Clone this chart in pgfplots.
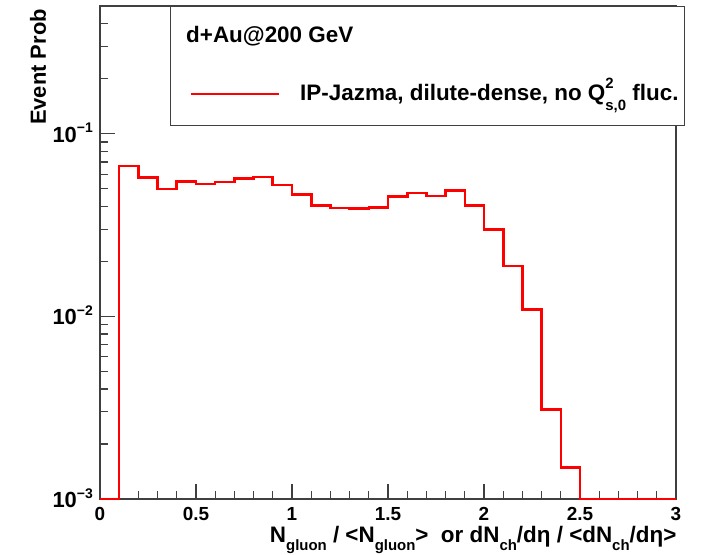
\documentclass[border=0pt]{standalone}
\usepackage{fontspec}
\setmainfont{Liberation Sans}
\usepackage{pgfplots}
\pgfplotsset{compat=1.18}
\newcommand\fs[1]{\fontsize{#1}{#1}\selectfont}
\newcommand\expo[1]{\raisebox{0.42em}{\fs{14}#1}}
\newcommand\sub[1]{\raisebox{-0.38em}{\fs{15}#1}}
\definecolor{frame}{gray}{0.25}
\begin{document}
\begin{tikzpicture}
\useasboundingbox (-100bp,-56bp) rectangle (605bp,499bp);
\begin{axis}[
  width=576bp, height=493bp, scale only axis,
  xmin=0, xmax=3, ymin=0.001, ymax=0.5, ymode=log,
  clip=false,
  xtick={0,0.5,1,1.5,2,2.5,3},
  xticklabels={0,0.5,1,1.5,2,2.5,3},
  minor x tick num=4,
  ytick={0.001,0.01,0.1},
  yticklabels={10\expo{−3},10\expo{−2},10\expo{−1}},
  minor ytick={0.002,0.003,0.004,0.005,0.006,0.007,0.008,0.009,0.02,0.03,0.04,0.05,0.06,0.07,0.08,0.09,0.2,0.3,0.4},
  tick pos=left, tick align=inside,
  major tick length=15bp, minor tick length=8bp,
  axis line style={frame, line width=1.3bp},
  every tick/.style={frame, line width=1.1bp},
  xticklabel style={font=\bfseries\fs{19}, anchor=base, inner sep=0pt, yshift=-21bp},
  yticklabel style={font=\bfseries\fs{22}, anchor=base east, inner sep=0pt, xshift=-7bp, yshift=-8.5bp},
  xlabel={N\sub{gluon} / <N\sub{gluon}> \ or dN\sub{ch}/dη / <dN\sub{ch}/dη>},
  ylabel={Event Prob},
  xlabel style={at={(axis description cs:1.001,-0.0872)}, anchor=base east, font=\bfseries\fs{22.5}, inner sep=0pt},
  ylabel style={at={(axis description cs:-0.0938,0.994)}, anchor=base east, font=\bfseries\fs{22}, inner sep=0pt},
  legend style={at={(axis description cs:0.1215,1)}, anchor=north west, draw=frame, line width=1.3bp, fill=white,
    inner xsep=19bp, inner ysep=20bp, row sep=37bp, column sep=20bp,
    font=\bfseries\fs{22.5},
    nodes={inner sep=0pt, text height=16bp, text depth=5bp}},
  legend cell align=left,
]
\addlegendimage{empty legend}
\addlegendentry{\hspace*{-114bp}d+Au@200 GeV}
\addplot[red, line width=2.6bp, const plot mark left, mark=none,
  legend image code/.code={\draw[red, line width=2.6bp] (0bp,1bp) -- (88bp,1bp);}]
coordinates {
(0,0.001)
(0.1,0.0667)
(0.2,0.0577)
(0.3,0.0499)
(0.4,0.0547)
(0.5,0.0531)
(0.6,0.0545)
(0.7,0.0570)
(0.8,0.0580)
(0.9,0.0524)
(1.0,0.0465)
(1.1,0.0403)
(1.2,0.0391)
(1.3,0.0390)
(1.4,0.0394)
(1.5,0.0453)
(1.6,0.0474)
(1.7,0.0457)
(1.8,0.0489)
(1.9,0.0405)
(2.0,0.0299)
(2.1,0.0189)
(2.2,0.0109)
(2.3,0.00309)
(2.4,0.00149)
(2.5,0.001)
(3.0,0.001)
};
\addlegendentry{IP-Jazma, dilute-dense, no Q\rlap{\raisebox{0.55em}{\fs{15}2}}\raisebox{-0.45em}{\fs{15}s,0} fluc.\hspace*{-13bp}}
\end{axis}
\end{tikzpicture}
\end{document}
